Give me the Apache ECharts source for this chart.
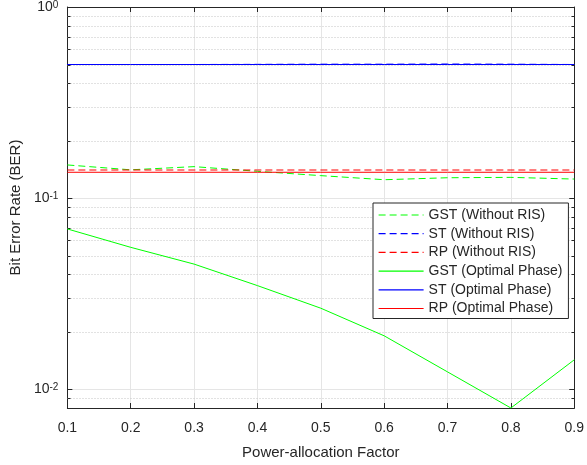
<!DOCTYPE html>
<html>
<head>
<meta charset="utf-8">
<script src="https://cdn.jsdelivr.net/npm/echarts@6/dist/echarts.min.js"></script>
<style>
html,body{margin:0;padding:0;background:#fff;}
#chart{width:587px;height:465px;}
</style>
</head>
<body>
<div id="chart"></div>
<script>
// ---- data ----
const powerFactor = [0.1, 0.2, 0.3, 0.4, 0.5, 0.6, 0.7, 0.8, 0.9];
const gstWithoutRIS = [0.149, 0.1405, 0.146, 0.138, 0.131, 0.1247, 0.1277, 0.1283, 0.1257];
const stWithoutRIS  = [0.5, 0.5, 0.5, 0.501, 0.502, 0.502, 0.503, 0.502, 0.5];
const rpWithoutRIS  = [0.1402, 0.1402, 0.1402, 0.1402, 0.1402, 0.1402, 0.1402, 0.1402, 0.1402];
const gstOptimal    = [0.0689, 0.0552, 0.0451, 0.0348, 0.0265, 0.0190, 0.0123, 0.00796, 0.01423];
const stOptimal     = [0.5, 0.5, 0.5, 0.5, 0.5, 0.5, 0.5, 0.5, 0.5];
const rpOptimal     = [0.1364, 0.1364, 0.1364, 0.1364, 0.1364, 0.1364, 0.1364, 0.1364, 0.1364];
const seriesNames = ['GST (Without RIS)', 'ST (Without RIS)', 'RP (Without RIS)',
                     'GST (Optimal Phase)', 'ST (Optimal Phase)', 'RP (Optimal Phase)'];
const xTicks = { min: 0.1, max: 0.9, interval: 0.1 };
const yRange = { min: 0.00796, max: 1 };
const minorYTicks = [0.009, 0.02, 0.03, 0.04, 0.05, 0.06, 0.07, 0.08, 0.09,
                     0.2, 0.3, 0.4, 0.5, 0.6, 0.7, 0.8, 0.9];

const axisColor = '#262626';
const FONT = '"Liberation Sans", Arial, Helvetica, sans-serif';

function pairs(vals) { return powerFactor.map((x, i) => [x, vals[i]]); }

function lineSeries(name, vals, color, dashed) {
  return {
    name: name, type: 'line', data: pairs(vals),
    symbol: 'none', smooth: false, animation: false,
    lineStyle: { color: color, width: 1, type: dashed ? [7, 4] : 'solid' },
    itemStyle: { color: color },
    emphasis: { disabled: true }
  };
}

function yLabel(value) {
  const l = Math.log10(value);
  const e = Math.round(l);
  if (Math.abs(l - e) > 1e-6) return '';
  return '{b|10}{s|' + e + '}';
}

const chart = echarts.init(document.getElementById('chart'), null, { renderer: 'canvas' });

const option = {
  animation: false,
  backgroundColor: '#ffffff',
  grid: { left: 66, right: 11, top: 6, bottom: 56, containLabel: false },
  legend: {
    data: seriesNames,
    orient: 'vertical',
    left: 373, top: 203,
    backgroundColor: '#ffffff',
    borderColor: axisColor, borderWidth: 1, borderRadius: 0,
    padding: [5, 6, 3, 5],
    itemWidth: 45, itemHeight: 14, itemGap: 4.7,
    itemStyle: { opacity: 0, borderWidth: 0 },
    lineStyle: { width: 1.2 },
    textStyle: { fontFamily: FONT, fontSize: 14, color: axisColor },
    selectedMode: false
  },
  xAxis: [{
    type: 'value', min: xTicks.min, max: xTicks.max, interval: xTicks.interval,
    name: 'Power-allocation Factor', nameLocation: 'middle', nameGap: 37,
    nameTextStyle: { fontFamily: FONT, fontSize: 15, color: axisColor },
    axisLine: { show: true, lineStyle: { color: axisColor, width: 1 } },
    axisTick: { show: true, inside: true, length: 5, lineStyle: { color: axisColor } },
    axisLabel: { fontFamily: FONT, fontSize: 14, color: axisColor, margin: 13,
                 formatter: v => v.toFixed(1) },
    splitLine: { show: true, lineStyle: { color: '#e5e5e5', width: 1 } }
  }, {
    type: 'value', position: 'top', min: xTicks.min, max: xTicks.max, interval: xTicks.interval,
    axisLine: { show: true, lineStyle: { color: axisColor, width: 1 } },
    axisTick: { show: true, inside: true, length: 5, lineStyle: { color: axisColor } },
    axisLabel: { show: false }, splitLine: { show: false }
  }],
  yAxis: [{
    type: 'log', logBase: 10, min: yRange.min, max: yRange.max,
    name: 'Bit Error Rate (BER)', nameLocation: 'middle', nameGap: 42,
    nameTextStyle: { fontFamily: FONT, fontSize: 15, color: axisColor },
    axisLine: { show: true, lineStyle: { color: axisColor, width: 1 } },
    axisTick: { show: true, inside: true, length: 5, lineStyle: { color: axisColor } },
    axisLabel: {
      margin: 9, formatter: yLabel, color: axisColor,
      rich: {
        b: { fontFamily: FONT, fontSize: 14, color: axisColor, lineHeight: 14, verticalAlign: 'bottom' },
        s: { fontFamily: FONT, fontSize: 10, color: axisColor, lineHeight: 10, padding: [0, 0, 10, 0], verticalAlign: 'top' }
      }
    },
    splitLine: { show: true, lineStyle: { color: '#e5e5e5', width: 1 } },
    minorTick: { show: false }, minorSplitLine: { show: false }
  }, {
    type: 'log', logBase: 10, position: 'right', min: yRange.min, max: yRange.max,
    axisLine: { show: true, lineStyle: { color: axisColor, width: 1 } },
    axisTick: { show: true, inside: true, length: 5, lineStyle: { color: axisColor } },
    axisLabel: { show: false }, splitLine: { show: false }
  }],
  series: [
    {
      name: 'minor-grid', type: 'custom', silent: true, z: 1, animation: false,
      data: minorYTicks.map(v => [xTicks.min, v]),
      encode: { x: 0, y: 1 },
      clip: false,
      renderItem: function (params, api) {
        const v = api.value(1);
        const a = api.coord([xTicks.min, v]);
        const b = api.coord([xTicks.max, v]);
        const y = Math.round(a[1]) + 0.5;
        const x1 = Math.round(a[0]) + 0.5, x2 = Math.round(b[0]) + 0.5;
        return {
          type: 'group', children: [
            { type: 'line', shape: { x1: x1, y1: y, x2: x2, y2: y },
              style: { stroke: '#c4c4c4', lineWidth: 1, lineDash: [1, 2] } },
            { type: 'line', shape: { x1: x1, y1: y, x2: x1 + 3, y2: y },
              style: { stroke: axisColor, lineWidth: 1 } },
            { type: 'line', shape: { x1: x2 - 3, y1: y, x2: x2, y2: y },
              style: { stroke: axisColor, lineWidth: 1 } }
          ]
        };
      }
    },
    lineSeries(seriesNames[0], gstWithoutRIS, '#00ff00', true),
    lineSeries(seriesNames[1], stWithoutRIS, '#0000ff', true),
    lineSeries(seriesNames[2], rpWithoutRIS, '#ff0000', true),
    lineSeries(seriesNames[3], gstOptimal, '#00ff00', false),
    lineSeries(seriesNames[4], stOptimal, '#0000ff', false),
    lineSeries(seriesNames[5], rpOptimal, '#ff0000', false)
  ]
};
chart.setOption(option);
</script>
</body>
</html>
